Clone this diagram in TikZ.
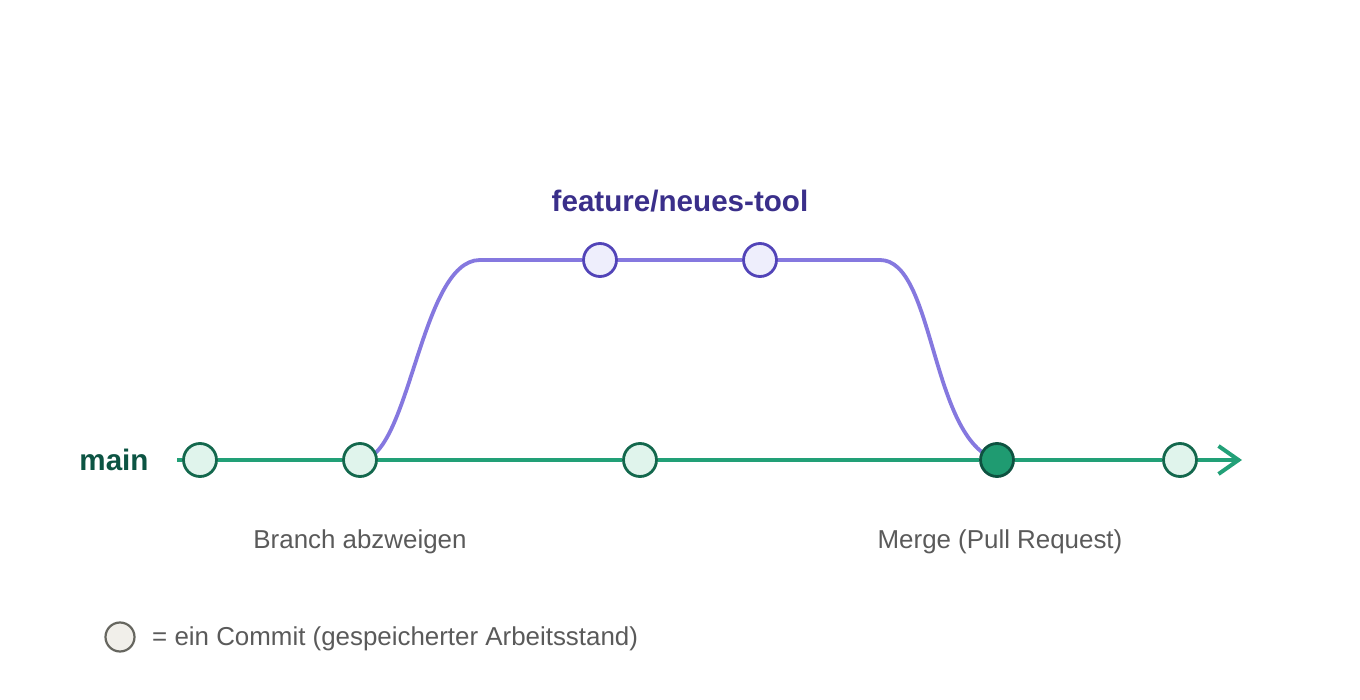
\documentclass[tikz,border=0pt]{standalone}
\usepackage{fontspec}
\setmainfont{Liberation Sans}
\usetikzlibrary{arrows.meta,backgrounds}
\definecolor{mainline}{HTML}{22A077}
\definecolor{mainstroke}{HTML}{13684D}
\definecolor{mainfill}{HTML}{E0F4EC}
\definecolor{mergefill}{HTML}{1F9B71}
\definecolor{mergestroke}{HTML}{0E5240}
\definecolor{mainlabel}{HTML}{0C5443}
\definecolor{featline}{HTML}{8578DF}
\definecolor{featstroke}{HTML}{5244B8}
\definecolor{featfill}{HTML}{EEEEFC}
\definecolor{featlabel}{HTML}{3A2F8A}
\definecolor{graytext}{HTML}{5A5A5A}
\definecolor{legfill}{HTML}{F1EFEA}
\definecolor{legstroke}{HTML}{66665F}
\tikzset{
  commit/.style={circle,minimum size=33pt,inner sep=0pt,line width=2.8pt,draw=mainstroke,fill=mainfill},
  mergecommit/.style={commit,draw=mergestroke,fill=mergefill},
  fcommit/.style={commit,draw=featstroke,fill=featfill},
  legcommit/.style={commit,minimum size=29pt,line width=2.2pt,draw=legstroke,fill=legfill},
  mainedge/.style={line width=4pt,draw=mainline},
  featedge/.style={line width=3.8pt,draw=featline},
  caption/.style={text=graytext,font=\fontsize{25.9pt}{30pt}\selectfont,inner sep=0pt},
  boldlabel/.style={font=\fontsize{29.6pt}{34pt}\selectfont\bfseries,inner sep=0pt}
}
\begin{document}
\begin{tikzpicture}[x=1pt,y=-1pt]
\useasboundingbox (0,0) rectangle (1360,700);
% commits on main
\node[commit] (c1) at (200,460) {};
\node[commit] (c2) at (360,460) {};
\node[commit] (c3) at (640,460) {};
\node[mergecommit] (c4) at (997,460) {};
\node[commit] (c5) at (1180,460) {};
% feature commits
\node[fcommit] (f1) at (600,260) {};
\node[fcommit] (f2) at (760,260) {};
% labels
\node[boldlabel,text=mainlabel] (mainlbl) at (114,460) {main};
\node[boldlabel,text=featlabel] (featlbl) at (680,201) {feature/neues-tool};
\node[caption] (branchlbl) at (360,542) {Branch abzweigen};
\node[caption] (mergelbl) at (1000,542) {Merge (Pull Request)};
% legend
\node[legcommit] (leg) at (120,637) {};
\node[caption,anchor=west] (legtxt) at (152,639) {= ein Commit (gespeicherter Arbeitsstand)};
% connectors
\coordinate (ms) at (177,460);
\coordinate (me) at (1242,460);
\coordinate (b1) at (480,260);
\coordinate (b2) at (880,260);
\begin{scope}[on background layer]
\draw[mainedge,-{Straight Barb[length=20pt,width=28pt,line width=4pt]}] (ms) -- (c1) -- (c2) -- (c3) -- (c4) -- (c5) -- (me);
\draw[featedge] (c2.center) .. controls (410,460) and (420,260) .. (b1) -- (f1) -- (f2) -- (b2) .. controls (935,260) and (930,440) .. (c4.center);
\end{scope}
\end{tikzpicture}
\end{document}
